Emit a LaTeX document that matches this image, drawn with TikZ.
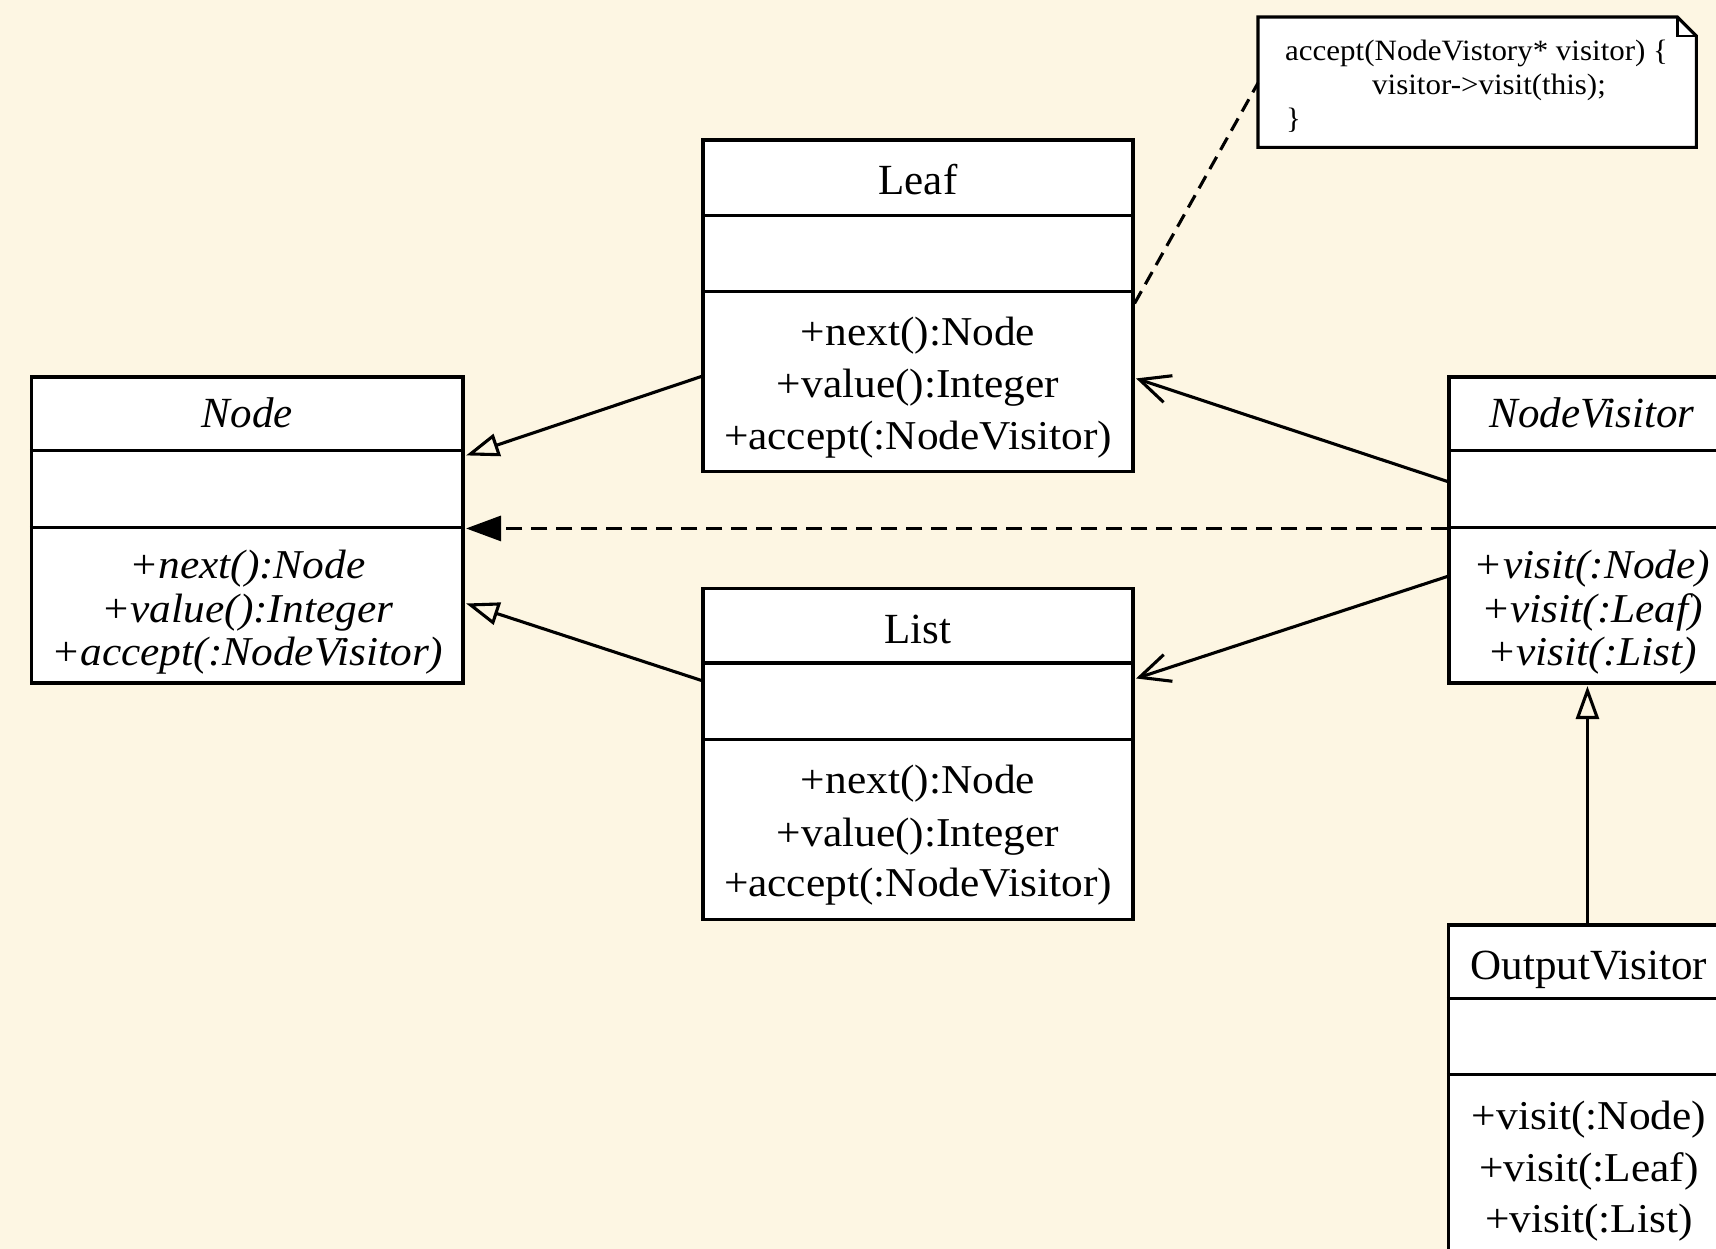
\documentclass[tikz,border=0pt]{standalone}
\usepackage{fontspec}
\setmainfont{Liberation Serif}
\newfontfamily\widefont[FakeStretch=1.058]{Liberation Serif}
\newfontfamily\notefont[FakeStretch=1.05]{Liberation Serif}
\usetikzlibrary{arrows.meta,calc}
\definecolor{bgc}{HTML}{FDF6E3}
\begin{document}
\begin{tikzpicture}[x=1pt,y=-1pt,
  box/.style={draw, fill=white, line width=3.1pt, rectangle, inner sep=0pt},
  div/.style={line width=3.1pt},
  hdr/.style={anchor=base, inner sep=0pt, font=\fontsize{43}{52}\selectfont},
  mth/.style={anchor=base, inner sep=0pt, font=\widefont\fontsize{41}{52}\selectfont},
  ntxt/.style={anchor=base west, inner sep=0pt, font=\notefont\fontsize{29.5}{34}\selectfont},
  conn/.style={line width=3.1pt},
  gen/.style={conn, -{Triangle[open, length=33pt, width=23pt]}},
  dep/.style={conn, dash pattern=on 16pt off 9pt, -{Triangle[length=35pt, width=25pt]}},
  assoc/.style={conn, -{Straight Barb[length=30pt, width=28pt]}},
  notelink/.style={conn, dash pattern=on 14pt off 8pt},
]
\useasboundingbox (0,0) rectangle (1716,1249);
\clip (0,0) rectangle (1716,1249);
\fill[bgc] (0,0) rectangle (1716,1249);

% Node (abstract)
\node[box, minimum width=431.5pt, minimum height=306pt] (node) at (247.25,530) {};
\draw[div] ($(node.north west)+(0,75)$) -- ($(node.north east)+(0,75)$);
\draw[div] ($(node.north west)+(0,152)$) -- ($(node.north east)+(0,152)$);
\node[hdr] (nodeH) at (247.25,427) {\itshape Node};
\node[mth] (nodeM1) at (247.25,578) {\itshape +next():Node};
\node[mth] (nodeM2) at (247.25,622) {\itshape +value():Integer};
\node[mth] (nodeM3) at (247.25,665) {\itshape +accept(:NodeVisitor)};

% Leaf
\node[box, minimum width=430pt, minimum height=331.5pt] (leaf) at (918,305.75) {};
\draw[div] ($(leaf.north west)+(0,76.7)$) -- ($(leaf.north east)+(0,76.7)$);
\draw[div] ($(leaf.north west)+(0,153.3)$) -- ($(leaf.north east)+(0,153.3)$);
\node[hdr] (leafH) at (918,195) {Leaf};
\node[mth] (leafM1) at (918,345) {+next():Node};
\node[mth] (leafM2) at (918,397) {+value():Integer};
\node[mth] (leafM3) at (918,449) {+accept(:NodeVisitor)};

% List
\node[box, minimum width=430pt, minimum height=331pt] (list) at (918,754) {};
\draw[div] ($(list.north west)+(0,76)$) -- ($(list.north east)+(0,76)$);
\draw[div] ($(list.north west)+(0,152.5)$) -- ($(list.north east)+(0,152.5)$);
\node[hdr] (listH) at (918,643) {List};
\node[mth] (listM1) at (918,793) {+next():Node};
\node[mth] (listM2) at (918,846) {+value():Integer};
\node[mth] (listM3) at (918,896) {+accept(:NodeVisitor)};

% NodeVisitor (abstract)
\node[box, minimum width=286pt, minimum height=306pt] (nv) at (1592,530) {};
\draw[div] ($(nv.north west)+(0,75)$) -- ($(nv.north east)+(0,75)$);
\draw[div] ($(nv.north west)+(0,152)$) -- ($(nv.north east)+(0,152)$);
\node[hdr] (nvH) at (1592,427) {\itshape NodeVisitor};
\node[mth] (nvM1) at (1592,578) {\itshape +visit(:Node)};
\node[mth] (nvM2) at (1592,622) {\itshape +visit(:Leaf)};
\node[mth] (nvM3) at (1592,665) {\itshape +visit(:List)};

% OutputVisitor
\node[box, minimum width=281pt, minimum height=400pt] (ov) at (1589,1125) {};
\draw[div] ($(ov.north west)+(0,75)$) -- ($(ov.north east)+(0,75)$);
\draw[div] ($(ov.north west)+(0,151)$) -- ($(ov.north east)+(0,151)$);
\node[hdr] (ovH) at (1589,979) {OutputVisitor};
\node[mth] (ovM1) at (1589,1129) {+visit(:Node)};
\node[mth] (ovM2) at (1589,1181) {+visit(:Leaf)};
\node[mth] (ovM3) at (1589,1232) {+visit(:List)};

% Note
\node[inner sep=0pt, minimum width=438pt, minimum height=130pt, anchor=north west] (note) at (1258,17) {};
\draw[line width=3.1pt, fill=white, line join=miter]
  (note.north west) -- ($(note.north east)+(-19,0)$) -- ($(note.north east)+(0,19)$)
  -- (note.south east) -- (note.south west) -- cycle;
\draw[line width=2.4pt]
  ($(note.north east)+(-19,0)$) -- ($(note.north east)+(-19,19)$) -- ($(note.north east)+(0,19)$);
\node[ntxt] (noteL1) at (1285,61) {accept(NodeVistory* visitor) \{};
\node[ntxt] (noteL2) at (1372,95) {visitor->visit(this);};
\node[ntxt] (noteL3) at (1286,129) {\}};

% connector points
\coordinate (leafA) at ($(leaf.north west)+(0,238)$);
\coordinate (nodeA) at ($(node.north east)+(1.5,80)$);
\coordinate (listA) at ($(list.north west)+(0,93.5)$);
\coordinate (nodeB) at ($(node.north east)+(1.5,228)$);
\coordinate (nvA) at ($(nv.north west)+(0,153)$);
\coordinate (nodeC) at ($(node.north east)+(1.5,153)$);
\coordinate (nvB) at ($(nv.north west)+(0,106)$);
\coordinate (leafB) at ($(leaf.north east)+(1.5,240)$);
\coordinate (nvC) at ($(nv.north west)+(0,201)$);
\coordinate (listB) at ($(list.north east)+(1.5,91.5)$);
\coordinate (ovA) at ($(ov.north west)+(140.5,0)$);
\coordinate (nvD) at ($(nv.south west)+(140,1.5)$);
\coordinate (leafC) at ($(leaf.north east)+(0,165)$);
\coordinate (noteA) at ($(note.north west)+(0,66)$);

% connectors
\draw[gen] (leafA) -- (nodeA);
\draw[gen] (listA) -- (nodeB);
\draw[dep] (nvA) -- (nodeC);
\draw[assoc] (nvB) -- (leafB);
\draw[assoc] (nvC) -- (listB);
\draw[gen] (ovA) -- (nvD);
\draw[notelink] (leafC) -- (noteA);
\end{tikzpicture}
\end{document}
